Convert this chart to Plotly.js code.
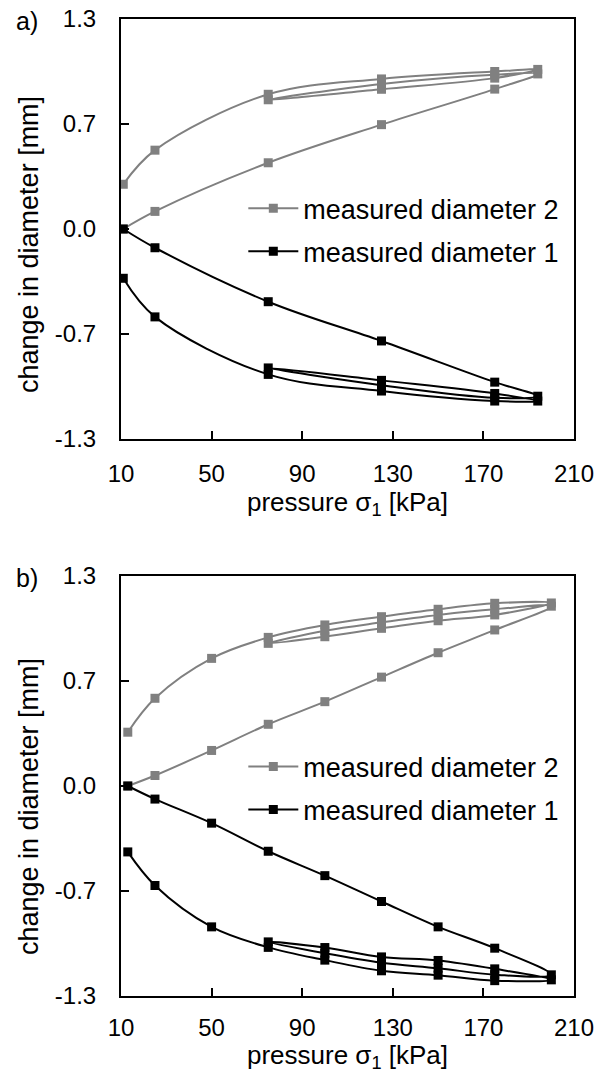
<!DOCTYPE html>
<html><head><meta charset="utf-8">
<script src="https://cdn.plot.ly/plotly-3.0.1.min.js"></script>
<style>html,body{margin:0;padding:0;background:#fff}#chart{width:599px;height:1073px}</style>
</head><body><div id="chart"></div>
<script>
// ---- data: (a) loading path, pressure in kPa ----
const pressureA = [11, 25, 75, 125, 175, 194, 175, 125, 75, 125, 175, 194, 175, 125, 75, 25, 11];
const diameter2A = [0.0, 0.109, 0.41, 0.646, 0.866, 0.96, 0.955, 0.898, 0.80, 0.865, 0.934, 0.988, 0.975, 0.929, 0.834, 0.488, 0.277];
const diameter1A = [0.0, -0.116, -0.45, -0.693, -0.948, -1.035, -1.045, -0.967, -0.86, -0.937, -1.018, -1.065, -1.065, -1.003, -0.90, -0.544, -0.305];

// ---- data: (b) loading path ----
const pressureB = [13, 25, 50, 75, 100, 125, 150, 175, 200, 175, 150, 125, 100, 75, 100, 125, 150, 175, 200, 175, 150, 125, 100, 75, 50, 25, 13];
const diameter2B = [0.0, 0.065, 0.22, 0.382, 0.522, 0.674, 0.825, 0.966, 1.113, 1.094, 1.059, 1.013, 0.961, 0.883, 0.924, 0.976, 1.023, 1.059, 1.133, 1.131, 1.094, 1.048, 0.997, 0.92, 0.79, 0.543, 0.333];
const diameter1B = [0.0, -0.081, -0.23, -0.404, -0.555, -0.715, -0.872, -1.004, -1.169, -1.168, -1.128, -1.094, -1.036, -0.965, -1.0, -1.058, -1.08, -1.132, -1.2, -1.205, -1.171, -1.144, -1.078, -0.999, -0.872, -0.616, -0.408];

// ---- ticks & labels ----
const xTickVals = [10, 50, 90, 130, 170, 210];
const yTickVals = [-1.3, -0.65, 0, 0.65, 1.3];
const yTickText = ['-1.3', '-0.7', '0.0', '0.7', '1.3'];
const seriesNames = ['measured diameter 2', 'measured diameter 1'];
const panelLabels = ['a)', 'b)'];
const xTitle = 'pressure σ<sub>1</sub> [kPa]';
const yTitle = 'change in diameter [mm]';

const FONT = 'Arial, "Liberation Sans", sans-serif';
const GRAY = '#808080';
const BLACK = '#000000';

function trace(x, y, name, color, xa, ya, legend) {
  return {
    x: x, y: y, name: name, type: 'scatter', mode: 'lines+markers',
    xaxis: xa, yaxis: ya, legend: legend, legendgroup: name + legend,
    line: {color: color, width: 2, shape: 'spline', smoothing: 1},
    marker: {symbol: 'square', size: 9, color: color, line: {width: 0}},
    hoverinfo: 'skip'
  };
}

const data = [
  trace(pressureA, diameter2A, seriesNames[0], GRAY, 'x', 'y', 'legend'),
  trace(pressureA, diameter1A, seriesNames[1], BLACK, 'x', 'y', 'legend'),
  trace(pressureB, diameter2B, seriesNames[0], GRAY, 'x2', 'y2', 'legend2'),
  trace(pressureB, diameter1B, seriesNames[1], BLACK, 'x2', 'y2', 'legend2')
];

function xAxis(anchor, labelGap, titleGap) {
  return {
    anchor: anchor, domain: [0, 1], range: [10, 210], tickvals: xTickVals,
    ticks: 'inside', ticklen: 8, tickwidth: 2, tickcolor: BLACK,
    showline: true, linewidth: 2, linecolor: BLACK, mirror: true,
    showgrid: false, zeroline: false, fixedrange: true,
    tickfont: {family: FONT, size: 24, color: BLACK},
    ticklabelstandoff: labelGap,
    title: {text: xTitle, font: {family: FONT, size: 26, color: BLACK}, standoff: titleGap}
  };
}
function yAxis(anchor, domain) {
  return {
    anchor: anchor, domain: domain, range: [-1.3, 1.3], tickvals: yTickVals, ticktext: yTickText,
    ticks: 'inside', ticklen: 8, tickwidth: 2, tickcolor: BLACK,
    showline: true, linewidth: 2, linecolor: BLACK, mirror: true,
    showgrid: false, zeroline: false, fixedrange: true,
    tickfont: {family: FONT, size: 24, color: BLACK},
    ticklabelstandoff: 18
  };
}
function legendBox(y) {
  return {x: 0.27, xanchor: 'left', y: y, yanchor: 'top', bgcolor: 'rgba(0,0,0,0)',
    font: {family: FONT, size: 27, color: BLACK}, tracegroupgap: 5, itemwidth: 50};
}
function label(text, x, y, size, angle) {
  return {text: text, xref: 'paper', yref: 'paper', x: x, y: y, xanchor: 'center', yanchor: 'middle',
    showarrow: false, textangle: angle, font: {family: FONT, size: size, color: BLACK}};
}

const layout = {
  width: 599, height: 1073,
  margin: {l: 121, r: 25, t: 19, b: 77},
  paper_bgcolor: '#ffffff', plot_bgcolor: '#ffffff',
  font: {family: FONT, color: BLACK},
  showlegend: true,
  xaxis: xAxis('y', 12, 4),
  yaxis: yAxis('x', [0.5701, 1]),
  xaxis2: xAxis('y2', 9, 8),
  yaxis2: yAxis('x2', [0, 0.4299]),
  legend: legendBox(0.831),
  legend2: legendBox(0.2595),
  annotations: [
    label(panelLabels[0], -0.207, 0.998, 25, 0),
    label(panelLabels[1], -0.207, 0.428, 25, 0),
    label(yTitle, -0.203, 0.7687, 27, -90),
    label(yTitle, -0.203, 0.1934, 27, -90)
  ]
};

Plotly.newPlot('chart', data, layout, {staticPlot: true, displayModeBar: false});
</script>
</body></html>
